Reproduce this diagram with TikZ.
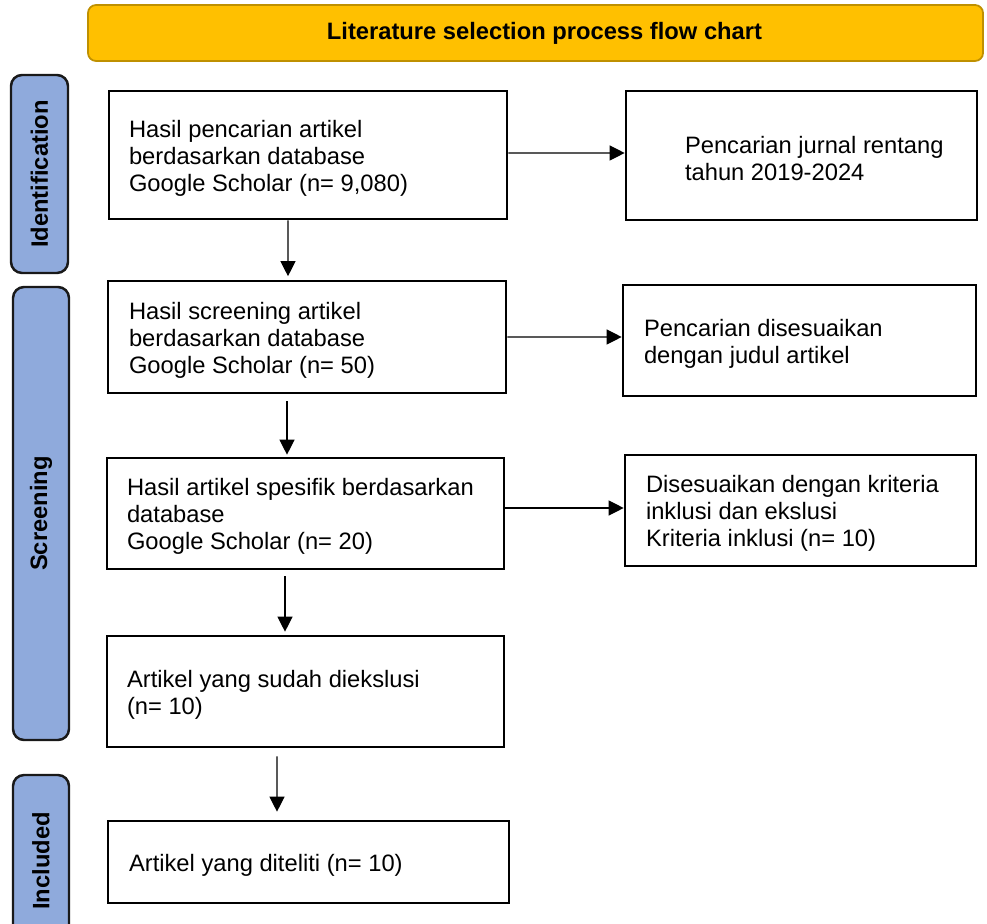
\documentclass[tikz,border=0pt]{standalone}
\usepackage{fontspec}
\setmainfont{Liberation Sans}
\usepackage{tikz}
\usetikzlibrary{arrows.meta}

\definecolor{titlefill}{HTML}{FFC000}
\definecolor{titleline}{HTML}{BF9000}
\definecolor{phasefill}{HTML}{8FAADC}

\begin{document}
\begin{tikzpicture}[
    box/.style={draw, line width=1.5pt, rectangle, inner sep=0pt},
    txt/.style={align=left, inner sep=0pt, yshift=-0.06cm, font=\fontsize{13.5}{15.4}\selectfont},
    phase/.style={draw=black!90, line width=1.4pt, fill=phasefill, rounded corners=0.22cm, rotate=90, inner sep=0pt, font=\fontsize{13.5}{15.4}\selectfont\bfseries},
    arrow/.style={line width=0.7pt, -{Triangle[length=0.3cm, width=0.3cm]}}
  ]
    \useasboundingbox (0,0) rectangle (19.74,-18.48); % 画像の大きさ

    % タイトル
    \node[draw=titleline, line width=1pt, fill=titlefill, rounded corners=0.16cm, minimum width=17.9cm, minimum height=1.12cm, font=\fontsize{13.5}{15.4}\selectfont\bfseries] (title) at (10.71,-0.66) {\raisebox{-0.06cm}{\hspace*{0.36cm}Literature selection process flow chart}};

    % 左の段階ラベル、rotate=90で縦書き
    \node[phase, minimum width=3.96cm, minimum height=1.14cm] (ident) at (0.79,-3.48) {Identification};
    \node[phase, minimum width=9.06cm, minimum height=1.12cm] (screen) at (0.82,-10.27) {Screening};
    \node[phase, minimum width=3.44cm, minimum height=1.12cm] (incl) at (0.82,-17.22) {Included};

    % 左の列
    \node[box, minimum width=7.96cm, minimum height=2.56cm] (hasil1) at (6.16,-3.10) {};
    \node[box, minimum width=7.96cm, minimum height=2.24cm] (hasil2) at (6.14,-6.74) {};
    \node[box, minimum width=7.94cm, minimum height=2.22cm] (hasil3) at (6.11,-10.27) {};
    \node[box, minimum width=7.94cm, minimum height=2.22cm] (eksklusi) at (6.11,-13.83) {};
    \node[box, minimum width=8.02cm, minimum height=1.64cm] (diteliti) at (6.17,-17.24) {};

    % 右の列
    \node[box, minimum width=7.02cm, minimum height=2.58cm] (rentang) at (16.03,-3.11) {};
    \node[box, minimum width=7.06cm, minimum height=2.22cm] (judul) at (15.99,-6.81) {};
    \node[box, minimum width=7.02cm, minimum height=2.22cm] (kriteria) at (16.01,-10.21) {};

    % 文字、anchor=westで左寄せ
    \node[txt, anchor=west] (hasil1txt) at ([xshift=0.42cm]hasil1.west) {Hasil pencarian artikel\\berdasarkan database\\Google Scholar (n= 9,080)};
    \node[txt, anchor=west] (hasil2txt) at ([xshift=0.44cm]hasil2.west) {Hasil screening artikel\\berdasarkan database\\Google Scholar (n= 50)};
    \node[txt, anchor=west] (hasil3txt) at ([xshift=0.42cm]hasil3.west) {Hasil artikel spesifik berdasarkan\\database\\Google Scholar (n= 20)};
    \node[txt, anchor=west] (eksklusitxt) at ([xshift=0.42cm]eksklusi.west) {Artikel yang sudah diekslusi\\(n= 10)};
    \node[txt, anchor=west] (ditelititxt) at ([xshift=0.44cm]diteliti.west) {Artikel yang diteliti (n= 10)};
    \node[txt, anchor=west] (rentangtxt) at ([xshift=1.20cm]rentang.west) {Pencarian jurnal rentang\\tahun 2019-2024};
    \node[txt, anchor=west] (judultxt) at ([xshift=0.44cm]judul.west) {Pencarian disesuaikan\\dengan judul artikel};
    \node[txt, anchor=west] (kriteriatxt) at ([xshift=0.44cm]kriteria.west) {Disesuaikan dengan kriteria\\inklusi dan ekslusi\\Kriteria inklusi (n= 10)};

    % 下向きの矢印
    \draw[arrow] ([xshift=-0.40cm]hasil1.south) -- ([xshift=-0.38cm, yshift=0.07cm]hasil2.north);
    \draw[arrow] ([xshift=-0.40cm, yshift=-0.14cm]hasil2.south) -- ([xshift=-0.37cm, yshift=0.04cm]hasil3.north);
    \draw[arrow] ([xshift=-0.41cm, yshift=-0.12cm]hasil3.south) -- ([xshift=-0.41cm, yshift=0.06cm]eksklusi.north);
    \draw[arrow] ([xshift=-0.57cm, yshift=-0.16cm]eksklusi.south) -- ([xshift=-0.63cm, yshift=0.16cm]diteliti.north);

    % 右向きの矢印
    \draw[arrow] ([yshift=0.04cm]hasil1.east) -- ([yshift=0.05cm]rentang.west);
    \draw[arrow] (hasil2.east) -- ([yshift=0.07cm]judul.west);
    \draw[arrow] ([yshift=0.11cm]hasil3.east) -- ([yshift=0.05cm]kriteria.west);

  \end{tikzpicture}
\end{document}
